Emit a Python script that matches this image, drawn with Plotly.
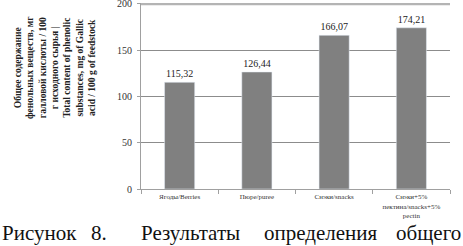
import plotly.graph_objects as go

categories = ["Ягоды/Berries", "Пюре/puree", "Снэки/snacks", "Снэки+5%<br>пектина/snacks+5%<br>pectin"]
values = [115.32, 126.44, 166.07, 174.21]
y_ticks = [0, 50, 100, 150, 200]
y_title_lines = ["Общее содержание", "фенольных веществ, мг", "галловой кислоты / 100",
                 "г исходного сырья |", "Total content of phenolic",
                 "substances, mg of Gallic", "acid / 100 g of feedstock"]
caption_words = ["Рисунок", "8.", "Результаты", "определения", "общего"]

W, H = 463, 246
L, R, T, B = 141, 13, 3, 57
pw = W - L - R
ph = H - T - B

def px(x):
    return (x - L) / pw

def py(y):
    return (H - B - y) / ph

SERIF = "Liberation Serif"

fig = go.Figure(go.Bar(
    x=categories, y=values, marker_color="#808080", width=0.39,
    texttemplate="%{y:.2f}", textposition="outside",
    textfont=dict(family=SERIF, size=10, color="#222"), cliponaxis=False,
))

fig.update_layout(
    width=W, height=H, margin=dict(l=L, r=R, t=T, b=B, autoexpand=False),
    plot_bgcolor="white", paper_bgcolor="white", separators=", ",
    showlegend=False, bargap=0.6,
    font=dict(family=SERIF, color="#222"),
)
fig.update_yaxes(range=[0, 201], tickvals=y_ticks, showgrid=True, gridcolor="#8c8c8c", gridwidth=1,
                 showline=True, linecolor="#a0a0a0", linewidth=1, ticks="outside", ticklen=3,
                 tickcolor="#a0a0a0", tickfont=dict(family=SERIF, size=10, color="#333"),
                 zeroline=False, ticklabelstandoff=3, automargin=False,
                 ticklabeloverflow="allow")
fig.update_xaxes(showline=True, linecolor="#a0a0a0", linewidth=1, ticks="outside", ticklen=4,
                 tickcolor="#a0a0a0", tickson="boundaries", automargin=False,
                 ticklabelstandoff=1,
                 tickfont=dict(family=SERIF, size=7, color="#333"))

# top gridline lighter & thicker
fig.add_shape(type="line", xref="paper", yref="y", x0=0, x1=1, y0=200, y1=200,
              line=dict(color="#b4b4b4", width=2.5))

fig.add_annotation(text="<b>" + "<br>".join(y_title_lines) + "</b>", xref="paper", yref="paper",
                   x=px(55), y=py(67), textangle=-90, showarrow=False,
                   xanchor="center", yanchor="middle",
                   font=dict(family=SERIF, size=9.5, color="#222"))

caption_pos = [(0, "left"), (89, "left"), (139, "left"), (262, "left"), (463, "right")]
for w, (xp, anc) in zip(caption_words, caption_pos):
    fig.add_annotation(text=w, xref="paper", yref="paper", x=px(xp), y=py(233),
                       xanchor=anc, yanchor="middle", showarrow=False,
                       font=dict(family=SERIF, size=21, color="#111"))

fig.write_html("out.html", config={"displayModeBar": False},
               post_script="document.body.style.margin='0';document.body.style.overflow='hidden';")
